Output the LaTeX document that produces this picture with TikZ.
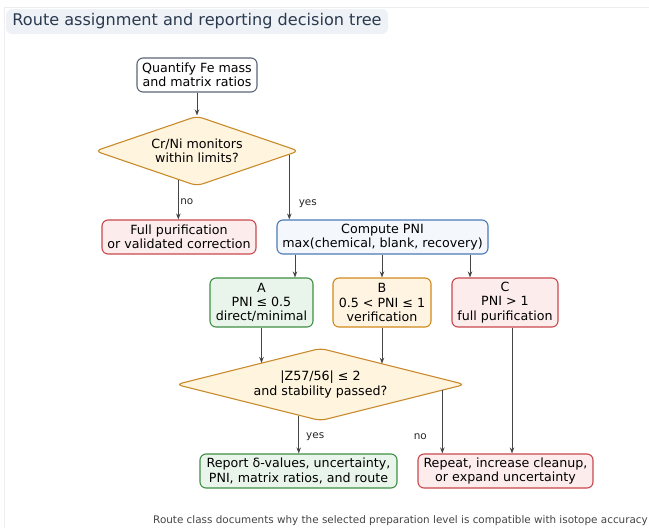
\documentclass[tikz,border=0pt]{standalone}
\usepackage{fontspec}
\setmainfont{DejaVu Sans}
\usetikzlibrary{shapes.geometric,calc,arrows.meta}
\definecolor{titlefill}{HTML}{EEF2F7}
\definecolor{titletext}{HTML}{2B3A4F}
\definecolor{slateb}{HTML}{5B6577}
\definecolor{diafill}{HTML}{FFF4DD}
\definecolor{diadraw}{HTML}{C98A2B}
\definecolor{redfill}{HTML}{FDECEC}
\definecolor{reddraw}{HTML}{C9484D}
\definecolor{bluefill}{HTML}{F4F8FD}
\definecolor{bluedraw}{HTML}{4C7AB3}
\definecolor{greenfill}{HTML}{E9F5EA}
\definecolor{greendraw}{HTML}{3F8F44}
\definecolor{orgfill}{HTML}{FFF4E1}
\definecolor{orgdraw}{HTML}{D0891C}
\definecolor{linec}{HTML}{444444}
\definecolor{framec}{HTML}{EEEEEE}
\tikzset{
  base/.style={rounded corners=6pt, line width=1.1pt, align=center, inner sep=0pt,
    font=\fontsize{12.65}{14.3}\selectfont, text=black},
  startbox/.style={base, draw=slateb, fill=white},
  redbox/.style={base, draw=reddraw, fill=redfill},
  bluebox/.style={base, draw=bluedraw, fill=bluefill},
  greenbox/.style={base, draw=greendraw, fill=greenfill},
  orgbox/.style={base, draw=orgdraw, fill=orgfill},
  decision/.style={diamond, draw=diadraw, fill=diafill, line width=1.1pt, rounded corners=6pt,
    aspect=2.9, inner sep=0pt, align=center, font=\fontsize{12.65}{14.3}\selectfont},
  arr/.style={draw=linec, line width=1pt, -{Stealth[length=6pt,width=4.5pt]}},
  lbl/.style={font=\fontsize{10.4}{12}\selectfont, text=black!85, inner sep=0pt},
}
\begin{document}
\begin{tikzpicture}[x=1pt,y=-1pt]
\useasboundingbox (0,0) rectangle (649,528);
\draw[framec, line width=0.6pt] (4,528) -- (4,7) -- (649,7);
% title
\node[fill=titlefill, rounded corners=6pt, minimum width=382pt, minimum height=25pt, inner sep=0pt,
  text=titletext, font=\fontsize{16.1}{18}\selectfont] (title) at (197,21.5) {Route assignment and reporting decision tree};
% nodes
\node[startbox, minimum width=120pt, minimum height=34pt] (q) at (197,75) {Quantify Fe mass\\and matrix ratios};
\node[decision, minimum width=204pt, minimum height=70pt] (d1) at (197,151) {Cr/Ni monitors\\within limits?};
\node[redbox, minimum width=154pt, minimum height=34pt] (full) at (179,237) {Full purification\\or validated correction};
\node[bluebox, minimum width=211pt, minimum height=34pt] (pni) at (382.5,237) {Compute PNI\\max(chemical, blank, recovery)};
\node[greenbox, minimum width=103pt, minimum height=49pt] (A) at (261.5,302.5) {A\\PNI ≤ 0.5\\direct/minimal};
\node[orgbox, minimum width=98pt, minimum height=49pt] (B) at (382,302.5) {B\\0.5 < PNI ≤ 1\\verification};
\node[redbox, minimum width=106pt, minimum height=49pt] (C) at (505,302.5) {C\\PNI > 1\\full purification};
\node[decision, minimum width=289pt, minimum height=69pt] (d2) at (320.5,384.5) {|Z57/56| ≤ 2\\and stability passed?};
\node[greenbox, minimum width=197pt, minimum height=34pt] (rep) at (298.5,471) {Report δ-values, uncertainty,\\PNI, matrix ratios, and route};
\node[redbox, minimum width=175pt, minimum height=34pt] (rpt) at (505.5,471) {Repeat, increase cleanup,\\or expand uncertainty};
\node[font=\fontsize{10.4}{12}\selectfont, text=linec, anchor=east, inner sep=0pt] (foot) at (648,521) {Route class documents why the selected preparation level is compatible with isotope accuracy};
% connectors
\draw[arr] (q.south) -- (d1.north);
\coordinate (d1no) at ($(d1.west)!0.818!(d1.south)$);
\coordinate (d1yes) at ($(d1.east)!0.1!(d1.south)$);
\draw[arr] (d1no) -- (d1no |- full.north) node[lbl, pos=0.56, anchor=west, xshift=1.5pt] {no};
\draw[arr] (d1yes) -- (d1yes |- pni.north) node[lbl, pos=0.76, anchor=west, xshift=9pt] {yes};
\coordinate (pa) at ([xshift=33.5pt]A.north);
\coordinate (pc) at ([xshift=-35pt]C.north);
\draw[arr] (pa |- pni.south) -- (pa);
\draw[arr] (pni.south -| B.north) -- (B.north);
\draw[arr] (pc |- pni.south) -- (pc);
\coordinate (ea) at ($(d2.west)!0.582!(d2.north)$);
\coordinate (eb) at ($(d2.north)!0.436!(d2.east)$);
\draw[arr] (A.south) -- (A.south |- ea);
\draw[arr] (B.south) -- (B.south |- eb);
\coordinate (pcb) at ([xshift=7pt]C.south);
\draw[arr] (pcb) -- (pcb |- rpt.north);
\coordinate (eyes) at ($(d2.west)!0.85!(d2.south)$);
\coordinate (eno) at ($(d2.east)!0.16!(d2.south)$);
\draw[arr] (eyes) -- (eyes |- rep.north) node[lbl, pos=0.56, anchor=west, xshift=7pt] {yes};
\draw[arr] (eno) -- (eno |- rpt.north) node[lbl, pos=0.74, anchor=east, xshift=-15pt] {no};
\end{tikzpicture}
\end{document}
